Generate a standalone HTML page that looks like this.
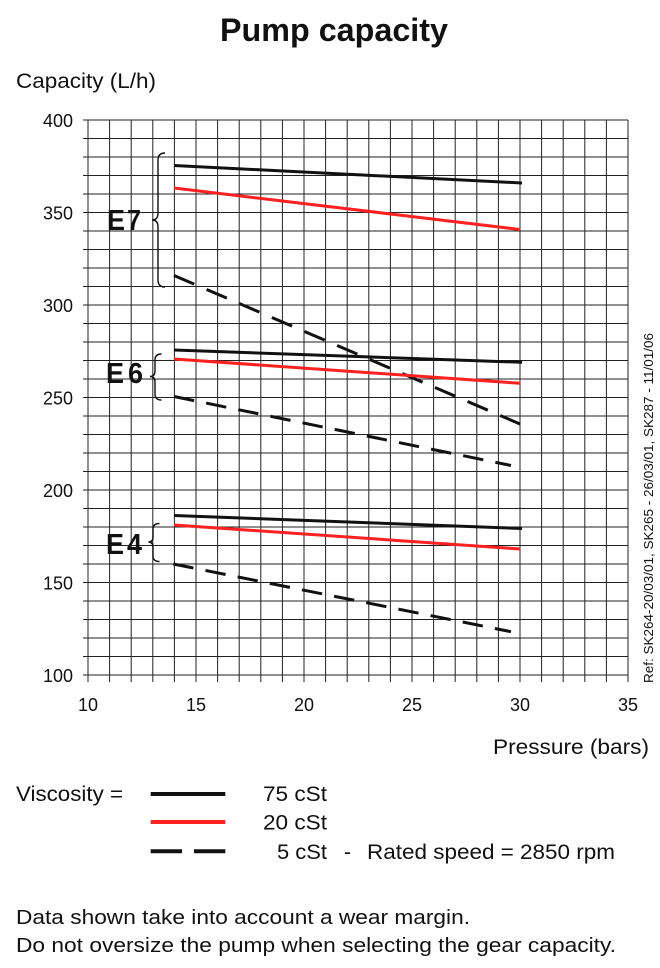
<!DOCTYPE html>
<html>
<head>
<meta charset="utf-8">
<style>
  html,body{margin:0;padding:0;background:#fff;}
  svg{display:block;}
  text{font-family:"Liberation Sans", Arial, sans-serif; fill:#111;}
</style>
</head>
<body>
<svg width="660" height="968" viewBox="0 0 660 968" xmlns="http://www.w3.org/2000/svg">
  <rect x="0" y="0" width="660" height="968" fill="#fff"/>

  <!-- Title -->
  <text x="220" y="41" font-size="32" font-weight="bold" textLength="228" lengthAdjust="spacingAndGlyphs">Pump capacity</text>

  <!-- Y axis title -->
  <text x="16" y="88" font-size="21" textLength="140" lengthAdjust="spacingAndGlyphs">Capacity (L/h)</text>

  <!-- Grid -->
  <g stroke="#222" stroke-width="1" fill="none">
    <path d="
      M88,120V682 M109.6,120V682 M131.2,120V682 M152.8,120V682 M174.4,120V682
      M196,120V682 M217.6,120V682 M239.2,120V682 M260.8,120V682 M282.4,120V682
      M304,120V682 M325.6,120V682 M347.2,120V682 M368.8,120V682 M390.4,120V682
      M412,120V682 M433.6,120V682 M455.2,120V682 M476.8,120V682 M498.4,120V682
      M520,120V682 M541.6,120V682 M563.2,120V682 M584.8,120V682 M606.4,120V682
      M628,120V682"/>
    <path d="
      M83,120H628 M83,138.5H628 M83,157H628 M83,175.5H628 M83,194H628
      M83,212.5H628 M83,231H628 M83,249.5H628 M83,268H628 M83,286.5H628
      M83,305H628 M83,323.5H628 M83,342H628 M83,360.5H628 M83,379H628
      M83,397.5H628 M83,416H628 M83,434.5H628 M83,453H628 M83,471.5H628
      M83,490H628 M83,508.5H628 M83,527H628 M83,545.5H628 M83,564H628
      M83,582.5H628 M83,601H628 M83,619.5H628 M83,638H628 M83,656.5H628
      M83,675H628"/>
  </g>

  <!-- Y tick labels -->
  <g font-size="18" text-anchor="end">
    <text x="73" y="127">400</text>
    <text x="73" y="219.5">350</text>
    <text x="73" y="312">300</text>
    <text x="73" y="404.5">250</text>
    <text x="73" y="497">200</text>
    <text x="73" y="589.5">150</text>
    <text x="73" y="682">100</text>
  </g>

  <!-- X tick labels -->
  <g font-size="18" text-anchor="middle">
    <text x="88" y="711">10</text>
    <text x="196" y="711">15</text>
    <text x="304" y="711">20</text>
    <text x="412" y="711">25</text>
    <text x="520" y="711">30</text>
    <text x="628" y="711">35</text>
  </g>

  <!-- X axis title -->
  <text x="493" y="754" font-size="21" textLength="156" lengthAdjust="spacingAndGlyphs">Pressure (bars)</text>

  <!-- Data series -->
  <g fill="none" stroke-width="3" stroke-linecap="butt">
    <line x1="174" y1="165.5" x2="522" y2="183" stroke="#111"/>
    <line x1="174" y1="188" x2="520" y2="229.5" stroke="#ff2020"/>
    <line x1="174" y1="275.5" x2="520" y2="424" stroke="#111" stroke-dasharray="22 13.5"/>
    <line x1="174" y1="350" x2="522" y2="362.3" stroke="#111"/>
    <line x1="174" y1="359" x2="520" y2="383.3" stroke="#ff2020"/>
    <line x1="174" y1="396.5" x2="511" y2="465.5" stroke="#111" stroke-dasharray="20.5 12.3"/>
    <line x1="174" y1="515.5" x2="522" y2="528.5" stroke="#111"/>
    <line x1="174" y1="525" x2="520" y2="549" stroke="#ff2020"/>
    <line x1="173.3" y1="564" x2="511" y2="631.7" stroke="#111" stroke-dasharray="20.5 12.3"/>
  </g>

  <!-- Braces -->
  <g fill="none" stroke="#111" stroke-width="1.4">
    <path d="M165,153 Q158,153 158,160 L158,213 Q158,220 152,220 Q158,220 158,227 L158,280 Q158,287 165,287"/>
    <path d="M161.5,354 Q155,354 155,360 L155,371 Q155,376.5 150,376.5 Q155,376.5 155,382 L155,394 Q155,400 161.5,400"/>
    <path d="M159.5,523.5 Q153,523.5 153,529 L153,537 Q153,542 148.5,542 Q153,542 153,547 L153,556 Q153,561.5 159.5,561.5"/>
  </g>

  <!-- E labels -->
  <g font-size="29" font-weight="bold">
    <text x="107" y="230" textLength="18" lengthAdjust="spacingAndGlyphs">E</text>
    <text x="127" y="230" textLength="14" lengthAdjust="spacingAndGlyphs">7</text>
    <text x="106" y="383" textLength="18" lengthAdjust="spacingAndGlyphs">E</text>
    <text x="128" y="383" textLength="15" lengthAdjust="spacingAndGlyphs">6</text>
    <text x="106" y="554" textLength="18" lengthAdjust="spacingAndGlyphs">E</text>
    <text x="127" y="554" textLength="15" lengthAdjust="spacingAndGlyphs">4</text>
  </g>

  <!-- Reference text (rotated) -->
  <text transform="translate(653,683) rotate(-90)" font-size="13" textLength="350" lengthAdjust="spacingAndGlyphs">Ref: SK264-20/03/01, SK265 - 26/03/01, SK287 - 11/01/06</text>

  <!-- Legend -->
  <text x="16" y="801" font-size="21" textLength="107" lengthAdjust="spacingAndGlyphs">Viscosity =</text>
  <line x1="150.7" y1="794" x2="225.3" y2="794" stroke="#111" stroke-width="4"/>
  <line x1="150.7" y1="822" x2="225.3" y2="822" stroke="#ff2020" stroke-width="4"/>
  <line x1="150.7" y1="851.3" x2="182" y2="851.3" stroke="#111" stroke-width="4"/>
  <line x1="194" y1="851.3" x2="225.3" y2="851.3" stroke="#111" stroke-width="4"/>

  <text x="263" y="801" font-size="21" textLength="64" lengthAdjust="spacingAndGlyphs">75 cSt</text>
  <text x="263" y="829.5" font-size="21" textLength="64" lengthAdjust="spacingAndGlyphs">20 cSt</text>
  <text x="277" y="859" font-size="21" textLength="50" lengthAdjust="spacingAndGlyphs">5 cSt</text>
  <text x="344" y="859" font-size="21">-</text>
  <text x="367" y="859" font-size="21" textLength="248" lengthAdjust="spacingAndGlyphs">Rated speed = 2850 rpm</text>

  <!-- Footer notes -->
  <text x="16" y="924" font-size="20" textLength="454" lengthAdjust="spacingAndGlyphs">Data shown take into account a wear margin.</text>
  <text x="16" y="952" font-size="20" textLength="600" lengthAdjust="spacingAndGlyphs">Do not oversize the pump when selecting the gear capacity.</text>
</svg>
</body>
</html>
